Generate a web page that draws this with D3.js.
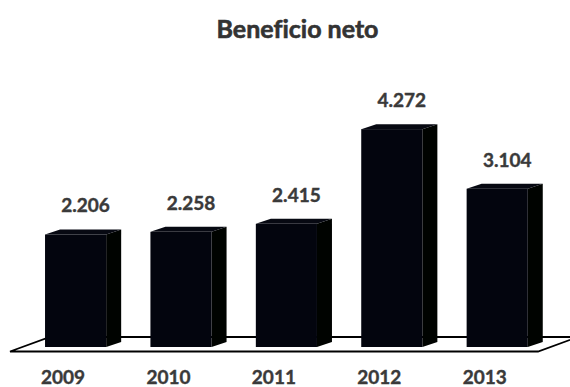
<!DOCTYPE html>
<html>
<head>
<meta charset="utf-8">
<script src="https://cdn.jsdelivr.net/npm/d3@7"></script>
<style>
  html, body { margin: 0; padding: 0; background: #fff; }
  svg { display: block; }
  text { font-family: Lato, "Open Sans", sans-serif; font-weight: bold; font-variant-ligatures: none; }
</style>
</head>
<body>
<svg id="chart" width="570" height="387"></svg>
<script>
// Net profit by year (thousands, Spanish decimal notation)
const years = ["2009", "2010", "2011", "2012", "2013"];
const profit = [2.206, 2.258, 2.415, 4.272, 3.104];
const valueLabels = ["2.206", "2.258", "2.415", "4.272", "3.104"];
const chartTitle = "Beneficio neto";

const W = 570, H = 387;
const svg = d3.select("#chart");

// 3D projection offsets for bar depth and floor depth
const depth = { dx: 15, dy: -5 };
const floorDepth = { dx: 40, dy: -14.5 };

const x = d3.scaleBand()
  .domain(years)
  .range([22.9, 549.9])
  .paddingInner(0.42)
  .paddingOuter(0.21);

const y = d3.scaleLinear()
  .domain([0, 5])
  .range([347, 92]);

const base = y(0);

// Floor plane
const floorFrontY = base + 4.5;
const floorX0 = 10, floorX1 = 538;
const floorPts = [
  [floorX0, floorFrontY],
  [floorX1, floorFrontY],
  [floorX1 + floorDepth.dx, floorFrontY + floorDepth.dy],
  [floorX0 + floorDepth.dx, floorFrontY + floorDepth.dy]
];
svg.append("polygon")
  .attr("points", floorPts.map(p => p.join(",")).join(" "))
  .attr("fill", "#fff")
  .attr("stroke", "#000")
  .attr("stroke-width", 1.8)
  .attr("stroke-linejoin", "miter");

// Title
svg.append("text")
  .attr("x", 297.5)
  .attr("y", 38)
  .attr("text-anchor", "middle")
  .attr("font-size", 25)
  .attr("fill", "#333")
  .attr("stroke", "#333")
  .attr("stroke-width", 0.6)
  .text(chartTitle);

const data = years.map((yr, i) => ({ yr, v: profit[i], label: valueLabels[i] }));

const bars = svg.append("g").selectAll("g")
  .data(data)
  .join("g");

const bw = x.bandwidth();

// Side face
bars.append("polygon")
  .attr("points", d => {
    const x1 = x(d.yr) + bw, yt = y(d.v);
    return [
      [x1, base], [x1 + depth.dx, base + depth.dy],
      [x1 + depth.dx, yt + depth.dy], [x1, yt]
    ].map(p => p.join(",")).join(" ");
  })
  .attr("fill", "#000300");

// Top face
bars.append("polygon")
  .attr("points", d => {
    const x0 = x(d.yr), yt = y(d.v);
    return [
      [x0, yt], [x0 + depth.dx, yt + depth.dy],
      [x0 + bw + depth.dx, yt + depth.dy], [x0 + bw, yt]
    ].map(p => p.join(",")).join(" ");
  })
  .attr("fill", "#070912");

// Front face
bars.append("rect")
  .attr("x", d => x(d.yr))
  .attr("y", d => y(d.v))
  .attr("width", bw)
  .attr("height", d => base - y(d.v))
  .attr("fill", "#03050e");

// Value labels
bars.append("text")
  .attr("x", d => x(d.yr) + bw / 2 + 10)
  .attr("y", d => y(d.v) + depth.dy - 17)
  .attr("text-anchor", "middle")
  .attr("font-size", 19)
  .attr("fill", "#3a3a3a")
  .attr("stroke", "#3a3a3a")
  .attr("stroke-width", 0.4)
  .text(d => d.label);

// Category labels
svg.append("g").selectAll("text")
  .data(years)
  .join("text")
  .attr("x", d => x(d) + bw / 2 - 12.5)
  .attr("y", 384)
  .attr("text-anchor", "middle")
  .attr("font-size", 19)
  .attr("fill", "#3a3a3a")
  .attr("stroke", "#3a3a3a")
  .attr("stroke-width", 0.4)
  .text(d => d);
</script>
</body>
</html>
